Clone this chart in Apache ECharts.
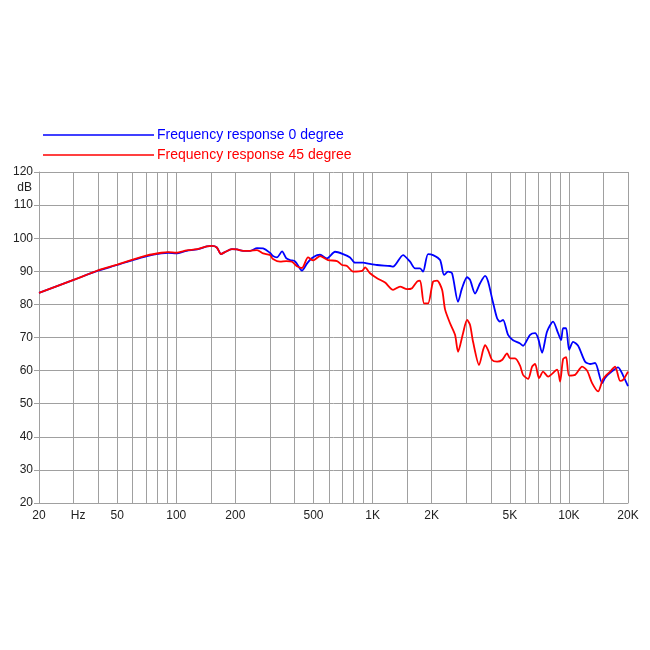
<!DOCTYPE html>
<html><head><meta charset="utf-8">
<script src="https://cdn.jsdelivr.net/npm/echarts@6/dist/echarts.min.js"></script>
<style>html,body{margin:0;padding:0;background:#fff}#c{width:650px;height:650px}</style>
</head><body><div id="c"></div>
<script>
const freq0 = [20,30,40,50,60,71,84,91,100,113,128,143,152,161,169,177,192,204,219,238,258,277,300,311,326,346,363,380,403,437,464,492,522,540,586,644,708,768,814,895,938,1054,1228,1272,1430,1552,1646,1746,1808,1917,2033,2208,2313,2424,2540,2725,2856,3029,3138,3327,3529,3742,3876,4062,4307,4460,4619,4900,5195,5640,5842,6344,6727,6967,7301,7742,8306,8810,9126,9343,9678,10024,10504,11140,12094,12823,13599,14762,15289,16212,17805,18881,20000];
const db0 = [83.5,87.4,90.2,91.9,93.4,94.6,95.4,95.6,95.4,96.2,96.6,97.5,97.7,97.2,95.2,95.8,96.7,96.6,96.2,96.2,97.0,96.9,95.6,94.6,94.2,96.0,94.0,93.4,93.0,90.2,92.4,94.0,94.9,95.0,93.9,95.9,95.2,94.2,92.6,92.6,92.4,91.9,91.6,91.4,94.9,92.9,90.9,90.9,89.9,95.2,94.9,93.4,88.9,89.9,89.4,80.8,84.9,88.2,87.4,83.3,86.4,88.6,86.9,81.8,75.8,74.8,75.3,70.8,69.2,68.2,67.5,70.8,71.3,69.8,65.4,71.8,74.8,71.3,69.2,72.8,72.8,66.3,68.7,67.5,62.7,62.0,62.3,56.2,57.8,59.3,61.0,58.5,55.3];
const freq45 = [20,30,40,50,60,71,84,91,100,113,128,143,152,161,169,177,192,204,219,238,258,277,300,311,338,363,389,412,437,469,498,540,593,659,699,741,796,884,916,971,1054,1158,1272,1380,1499,1589,1685,1746,1830,1917,2033,2131,2260,2340,2481,2631,2725,2890,3029,3138,3250,3487,3655,3742,3876,4062,4307,4566,4843,5016,5318,5640,5842,6196,6495,6727,7049,7387,7834,8706,9020,9343,9678,10024,10754,11676,12381,13128,14086,14936,16212,17190,18228,18881,20000];
const db45 = [83.5,87.4,90.3,92.0,93.5,94.8,95.6,95.8,95.6,96.3,96.7,97.5,97.7,97.2,95.2,95.8,96.7,96.6,96.2,96.2,96.4,95.4,94.9,93.7,92.9,93.1,92.9,91.5,91.0,94.2,93.3,94.6,93.4,93.1,91.9,91.6,89.9,90.1,91.2,89.4,87.9,86.6,84.4,85.4,84.6,84.9,86.9,87.2,80.3,80.3,86.9,87.2,84.4,78.5,74.3,70.8,65.7,71.3,75.3,73.8,68.7,61.7,66.2,67.7,66.2,63.2,62.7,63.2,65.2,63.7,63.7,61.5,58.7,57.5,61.2,62.0,57.7,59.7,58.2,60.3,56.7,63.5,64.1,58.5,58.7,61.2,60.0,56.2,53.7,57.5,59.7,61.2,56.9,57.2,59.7];
const gridFreqs = [20,30,40,50,60,70,80,90,100,150,200,300,400,500,600,700,800,900,1000,1500,2000,3000,4000,5000,6000,7000,8000,9000,10000,15000,20000];
const labelFreqs = [20,30,50,100,200,500,1000,2000,5000,10000,20000];
const labelText = {20:'20',30:'{hz|Hz}',50:'50',100:'100',200:'200',500:'500',1000:'1K',2000:'2K',5000:'5K',10000:'10K',20000:'20K'};
const seriesNames = ['Frequency response 0 degree','Frequency response 45 degree'];
const seriesColors = ['#0000ff','#ff0000'];

const pairs = (f, d) => f.map((v, i) => [v, d[i]]);
const chart = echarts.init(document.getElementById('c'));
const font = 'Liberation Sans, Arial, Helvetica, sans-serif';
chart.setOption({
  animation: false,
  backgroundColor: '#fff',
  textStyle: {fontFamily: font},
  legend: {
    orient: 'vertical', left: 43, top: 128, padding: 0, itemWidth: 111, itemHeight: 1.5, itemGap: 6,
    icon: 'rect',
    data: seriesNames.map((n, i) => ({name: n, icon: 'rect', itemStyle: {color: seriesColors[i]}, textStyle: {color: seriesColors[i]}})),
    textStyle: {fontSize: 14, fontFamily: font, padding: [0, 0, 0, -2]}
  },
  grid: {left: 39, right: 22, top: 172, bottom: 147},
  xAxis: {
    type: 'log', logBase: 10, min: 20, max: 20000,
    axisLine: {show: true, lineStyle: {color: '#a0a0a0'}},
    axisTick: {show: false, customValues: gridFreqs},
    splitLine: {show: true, lineStyle: {color: '#a0a0a0', width: 1}},
    minorSplitLine: {show: false},
    axisLabel: {customValues: labelFreqs, margin: 7, color: '#222', fontSize: 12, fontFamily: font,
      rich: {hz: {padding: [0, 0, 0, 9], fontSize: 12, color: '#222', fontFamily: font}},
      formatter: v => labelText[Math.round(v)] || ''}
  },
  yAxis: {
    type: 'value', min: 20, max: 120, interval: 10,
    axisLine: {show: true, lineStyle: {color: '#a0a0a0'}},
    axisTick: {show: true, length: 5, lineStyle: {color: '#a0a0a0'}},
    splitLine: {show: true, lineStyle: {color: '#a0a0a0'}},
    axisLabel: {margin: 6, color: '#222', fontSize: 12, fontFamily: font}
  },
  graphic: [{type: 'text', right: 618, top: 182, style: {text: 'dB', fill: '#222', font: '12px ' + font}}],
  series: [
    {name: seriesNames[0], type: 'line', data: pairs(freq0, db0), showSymbol: false, symbol: 'none', smooth: 0.25,
      lineStyle: {color: seriesColors[0], width: 1.8}, itemStyle: {color: seriesColors[0]}, z: 3},
    {name: seriesNames[1], type: 'line', data: pairs(freq45, db45), showSymbol: false, symbol: 'none', smooth: 0.25,
      lineStyle: {color: seriesColors[1], width: 1.8}, itemStyle: {color: seriesColors[1]}, z: 4}
  ]
});
</script></body></html>
